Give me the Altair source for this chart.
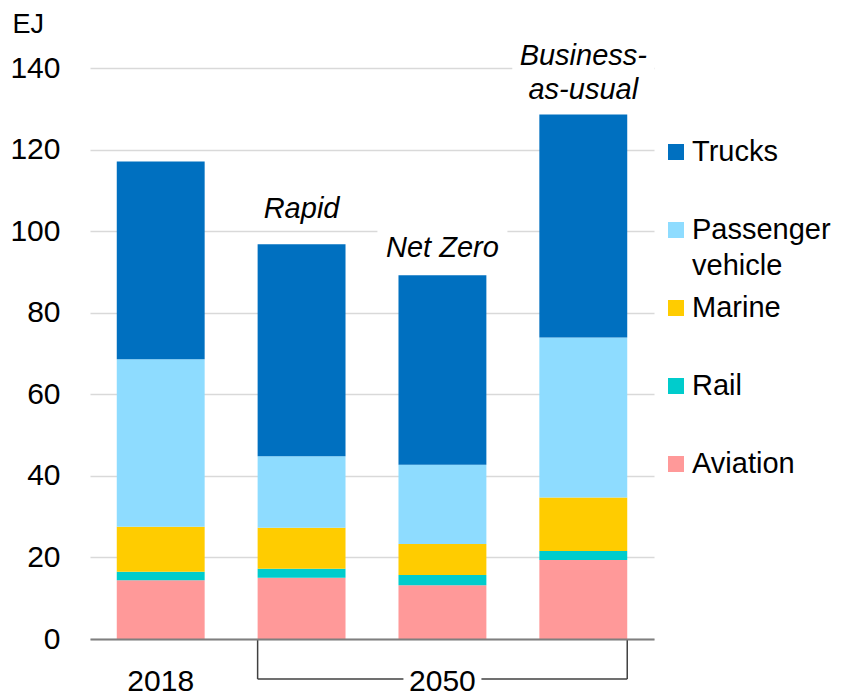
import altair as alt
import pandas as pd

# ---------------- data ----------------
scenarios = ["2018", "Rapid", "Net Zero", "Business-as-usual"]
modes = ["Aviation", "Rail", "Marine", "Passenger vehicle", "Trucks"]  # bottom -> top
aviation = [14.4, 15.0, 13.2, 19.4]
rail = [2.1, 2.2, 2.5, 2.2]
marine = [11.0, 10.1, 7.6, 13.1]
passenger = [41.1, 17.5, 19.4, 39.2]
trucks = [48.5, 52.0, 46.5, 54.7]
colors = ["#FF9999", "#00CCCC", "#FFCC00", "#8EDCFF", "#0070C0"]
y_ticks = [0, 20, 40, 60, 80, 100, 120, 140]
x_labels = {"2018": "2018", "Net Zero": "2050"}
legend_order = ["Trucks", "Passenger vehicle", "Marine", "Rail", "Aviation"]
legend_line1 = ["Trucks", "Passenger", "Marine", "Rail", "Aviation"]
legend_line2 = ["", "vehicle", "", "", ""]
ann_scen = ["Rapid", "Net Zero", "Business-as-usual", "Business-as-usual"]
ann_text = ["Rapid", "Net Zero", "Business-", "as-usual"]

series = [aviation, rail, marine, passenger, trucks]
rows = []
for mi, (m, vals) in enumerate(zip(modes, series)):
    for s, v in zip(scenarios, vals):
        rows.append({"scenario": s, "mode": m, "value": v, "stack_idx": mi})
df = pd.DataFrame(rows)
totals = df.groupby("scenario", sort=False)["value"].sum().reset_index()

# ---------------- layout / style ----------------
FONT = "Liberation Sans"
PLOT_W, PLOT_H = 564, 571
ann_dy = [-26, -18, -49, -15]
LEG_X, LEG_Y0, LEG_STEP = 586, 84, 78

xscale = alt.Scale(domain=scenarios, paddingInner=0.376, paddingOuter=0.19)
yscale = alt.Scale(domain=[0, 140], nice=False)
cscale = alt.Scale(domain=modes, range=colors)

label_expr = " : ".join(
    [f"datum.label == '{k}' ? '{v}'" for k, v in x_labels.items()]
) + " : ''"

x_axis = alt.Axis(
    title=None, labelExpr=label_expr, labelFont=FONT, labelFontSize=30,
    labelColor="#000000", labelPadding=51, labelBaseline="alphabetic",
    labelAngle=0, ticks=False, tickSize=0, domain=True, domainColor="#7F7F7F",
    domainWidth=2, grid=False, zindex=1,
)
y_axis = alt.Axis(
    values=y_ticks, grid=True, gridColor="#D9D9D9", gridWidth=1.5,
    domain=False, ticks=False, tickSize=0, labelFont=FONT, labelFontSize=30,
    labelColor="#000000", labelPadding=30, title="EJ", titleAngle=0,
    titleAlign="left", titleBaseline="alphabetic", titleX=-78, titleY=-36,
    titleFont=FONT, titleFontSize=27, titleFontWeight="normal",
    titleColor="#000000", zindex=0,
)

def xe(band=None):
    if band is None:
        return alt.X("scenario:N", scale=xscale, sort=scenarios, axis=x_axis)
    return alt.X("scenario:N", scale=xscale, sort=scenarios, axis=x_axis, bandPosition=band)

def ye(field=None, datum=None):
    if datum is not None:
        return alt.Y(datum=datum, scale=yscale, axis=y_axis)
    return alt.Y(field, scale=yscale, axis=y_axis)

bars = alt.Chart(df).mark_bar().encode(
    x=xe(),
    y=alt.Y("value:Q", stack="zero", scale=yscale, axis=y_axis),
    color=alt.Color("mode:N", scale=cscale, legend=None),
    order=alt.Order("stack_idx:Q", sort="ascending"),
)

# white masks that break gridlines behind labels
mask_nz = alt.Chart(pd.DataFrame({"scenario": ["Net Zero"]})).mark_bar(
    color="white", width=130).encode(
    x=xe(), y=ye(datum=99), y2=alt.datum(101))
mask_bau = alt.Chart(pd.DataFrame({"scenario": ["Business-as-usual"]})).mark_bar(
    color="white", width=142).encode(
    x=xe(), y=ye(datum=138.8), y2=alt.datum(141.5))

# scenario annotations
ann_layers = []
for sc, tx, dy in zip(ann_scen, ann_text, ann_dy):
    d = totals[totals["scenario"] == sc].assign(txt=tx)
    ann_layers.append(
        alt.Chart(d).mark_text(
            font=FONT, fontSize=29, fontStyle="italic", color="#000000",
            align="center", baseline="alphabetic", dy=dy,
        ).encode(x=xe(), y=ye("value:Q"), text="txt:N")
    )

# 2050 bracket
rule_style = dict(color="#404040", strokeWidth=1.5)
vr1 = alt.Chart(pd.DataFrame({"scenario": ["Rapid"]})).mark_rule(**rule_style).encode(
    x=xe(band=0), y=alt.value(PLOT_H), y2=alt.value(PLOT_H + 40))
vr2 = alt.Chart(pd.DataFrame({"scenario": ["Business-as-usual"]})).mark_rule(**rule_style).encode(
    x=xe(band=1), y=alt.value(PLOT_H), y2=alt.value(PLOT_H + 40))
hr = alt.Chart(pd.DataFrame({"scenario": ["Rapid"], "end": ["Business-as-usual"]})).mark_rule(
    **rule_style).encode(
    x=xe(band=0), x2=alt.X2("end", bandPosition=1), y=alt.value(PLOT_H + 40))
mask_2050 = alt.Chart(pd.DataFrame({"scenario": ["Net Zero"]})).mark_bar(
    color="white", width=78).encode(
    x=xe(), y=alt.value(PLOT_H + 33), y2=alt.value(PLOT_H + 47))

# custom legend (one entry per layer, placed in the right margin)
leg_layers = []
for i, (m, l1, l2) in enumerate(zip(legend_order, legend_line1, legend_line2)):
    yy = LEG_Y0 + LEG_STEP * i
    d = pd.DataFrame({"mode": [m], "line1": [l1], "line2": [l2]})
    leg_layers.append(alt.Chart(d).mark_square(size=256, opacity=1).encode(
        x=alt.value(LEG_X), y=alt.value(yy),
        color=alt.Color("mode:N", scale=cscale, legend=None)))
    leg_layers.append(alt.Chart(d).mark_text(
        font=FONT, fontSize=29, color="#000000", align="left", baseline="middle").encode(
        x=alt.value(LEG_X + 16), y=alt.value(yy), text="line1:N"))
    if l2:
        leg_layers.append(alt.Chart(d).mark_text(
            font=FONT, fontSize=29, color="#000000", align="left", baseline="middle",
            dy=36).encode(x=alt.value(LEG_X + 16), y=alt.value(yy), text="line2:N"))

chart = alt.layer(
    bars, mask_nz, mask_bau, *ann_layers, vr1, vr2, hr, mask_2050, *leg_layers
).properties(
    width=PLOT_W, height=PLOT_H,
    autosize=alt.AutoSizeParams(type="none"),
    padding={"left": 82, "top": 60, "right": 179, "bottom": 55},
    background="white",
).configure_view(strokeWidth=0)

chart.save("out.html", embed_options={"renderer": "svg", "actions": False})
